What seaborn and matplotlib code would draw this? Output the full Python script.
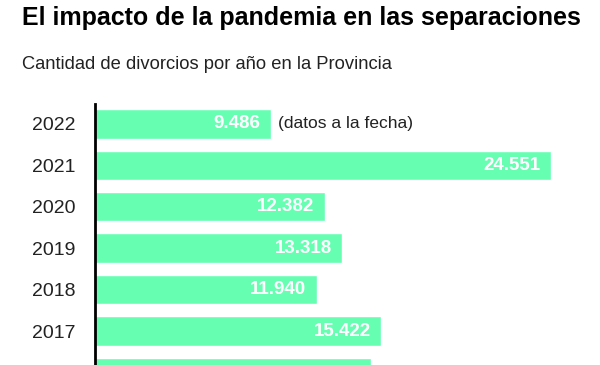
import matplotlib
matplotlib.use("Agg")
import matplotlib.pyplot as plt
import seaborn as sns
import pandas as pd

# Divorcios por año (el gráfico original está cortado en 2016)
years = ["2022", "2021", "2020", "2019", "2018", "2017", "2016"]
divorces = [9486, 24551, 12382, 13318, 11940, 15422, 14880]
# la etiqueta de 2016 queda fuera del recorte
value_labels = ["9.486", "24.551", "12.382", "13.318", "11.940", "15.422"]
note_2022 = "(datos a la fecha)"

title = "El impacto de la pandemia en las separaciones"
subtitle = "Cantidad de divorcios por año en la Provincia"

bar_color = "#66FFB2"
text_color = "#222222"

df = pd.DataFrame({"year": years, "divorces": divorces})

sns.set_style("white")
plt.rcParams["font.family"] = ["Liberation Sans", "DejaVu Sans"]

fig = plt.figure(figsize=(6, 3.65), dpi=100)
ax = fig.add_axes([95 / 600, 0, 505 / 600, 261 / 365])

sns.barplot(data=df, x="divorces", y="year", order=years, orient="h",
            color=bar_color, saturation=1, width=0.71, ax=ax)

ax.set_xlim(0, 505 / 0.01856)
ax.set_ylim(5.82, -0.48)

for i, lab in enumerate(value_labels):
    ax.annotate(lab, xy=(divorces[i], i), xytext=(-7.5, 0), textcoords="offset points",
                ha="right", va="center", color="white", fontsize=13.5,
                fontweight="bold")

ax.annotate(note_2022, xy=(divorces[0], 0), xytext=(5, 0), textcoords="offset points",
            ha="left", va="center", color=text_color, fontsize=12.5)

ax.set_xlabel("")
ax.set_ylabel("")
ax.set_xticks([])
ax.tick_params(axis="y", length=0, pad=14, labelsize=14, labelcolor=text_color)
for s in ["top", "right", "bottom"]:
    ax.spines[s].set_visible(False)
ax.spines["left"].set_color("black")
ax.spines["left"].set_linewidth(2)

fig.text(22 / 600, 1 - 25 / 365, title, fontsize=18, fontweight="bold",
         color="black", va="baseline", ha="left")
fig.text(22 / 600, 1 - 69 / 365, subtitle, fontsize=13.2, color=text_color,
         va="baseline", ha="left")

fig.savefig("out.png", dpi=100)
